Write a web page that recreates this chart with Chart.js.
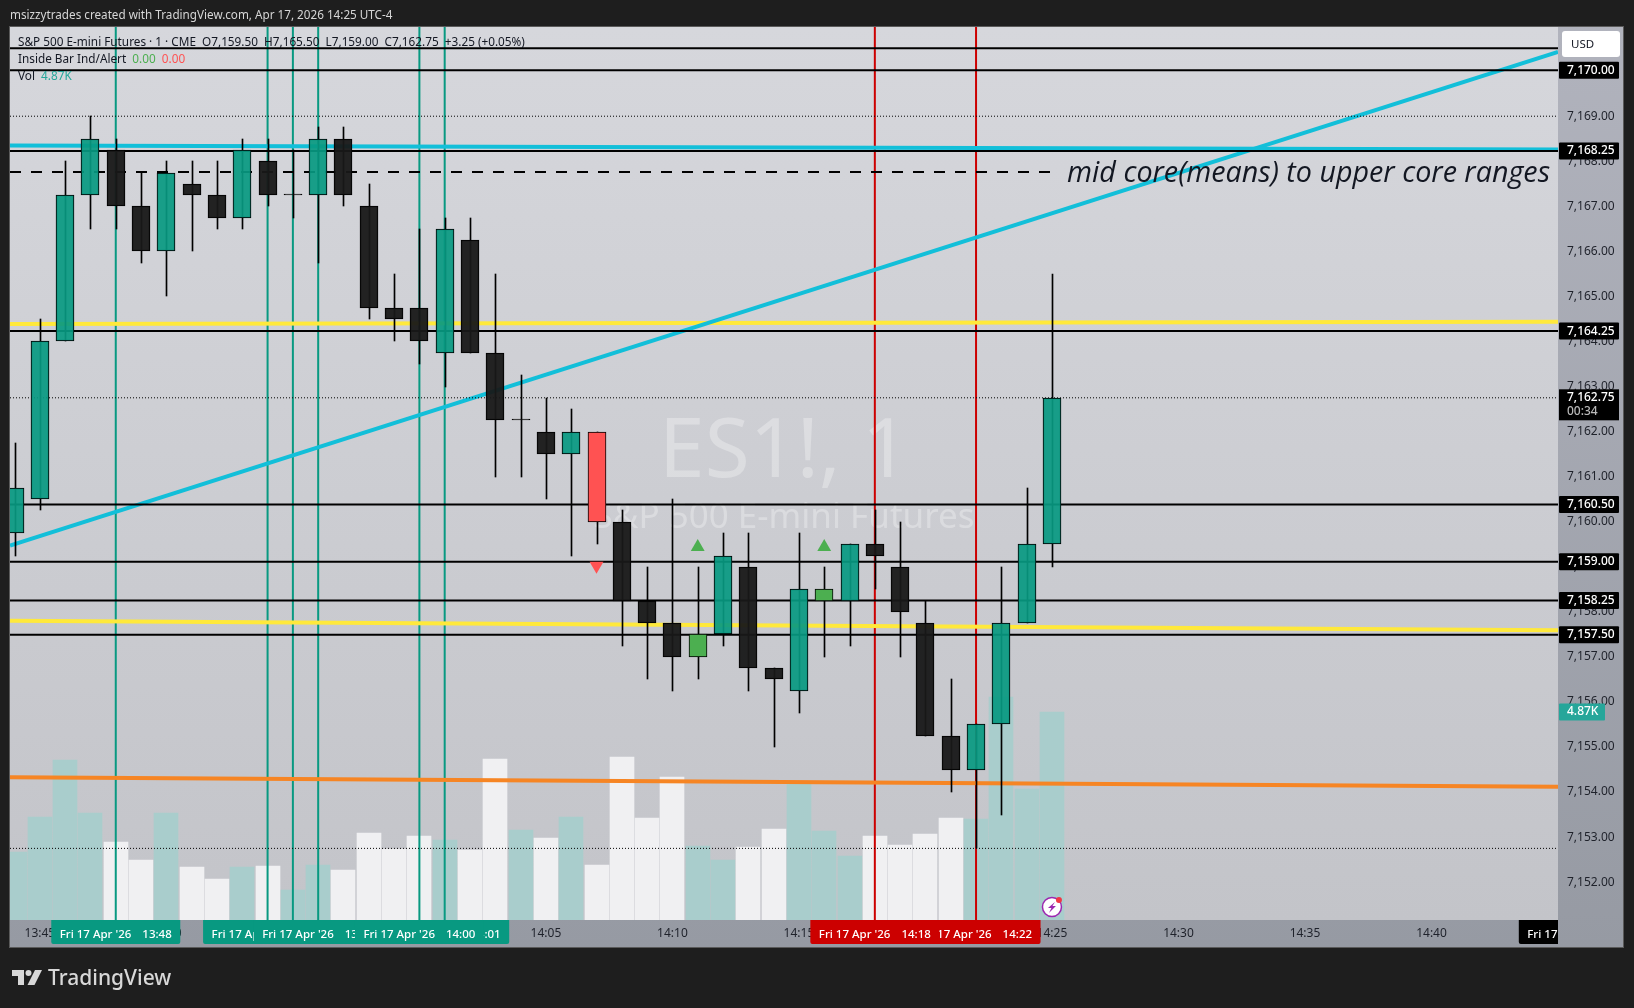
<!DOCTYPE html>
<html>
<head>
<meta charset="utf-8">
<title>ES1! 1 minute</title>
<style>
  html, body { margin: 0; padding: 0; background: #1e1e1e; }
  #wrap { position: relative; width: 1634px; height: 1008px; overflow: hidden; font-family: "Noto Sans", sans-serif; }
  #myChart { position: absolute; left: 0; top: 0; }
  .txt { position: absolute; white-space: pre; font-size: 11.77px; line-height: 16px; color: #131722; }
  #head { left: 10px; top: 6px; color: #d6d6d6; font-size: 11.7px; }
  #brand { left: 48px; top: 962px; color: #d8d8d8; font-size: 21px; line-height: 30px; font-weight: 500; }
  #logo { position: absolute; left: 12px; top: 970px; }
</style>
</head>
<body>
<div id="wrap">
  <canvas id="myChart" width="1634" height="1008"></canvas>
  <div class="txt" id="head">msizzytrades created with TradingView.com, Apr 17, 2026 14:25 UTC-4</div>
  <div class="txt" style="left:18px;top:33px">S&amp;P 500 E-mini Futures · 1 · CME  O7,159.50  H7,165.50  L7,159.00  C7,162.75  +3.25 (+0.05%)</div>
  <div class="txt" style="left:18px;top:50px">Inside Bar Ind/Alert  <span style="color:#4caf50">0.00</span>  <span style="color:#ff5252">0.00</span></div>
  <div class="txt" style="left:18px;top:67px">Vol  <span style="color:#26a69a">4.87K</span></div>
  <svg id="logo" width="30" height="15" viewBox="0 0 30 15">
    <path d="M0 0h12v15H6V6H0z M23 0h7l-7.5 15h-7z" fill="#d8d8d8"></path>
    <circle cx="16.5" cy="3" r="3" fill="#d8d8d8"></circle>
  </svg>
  <div class="txt" id="brand">TradingView</div>
</div>
<script src="https://cdn.jsdelivr.net/npm/chart.js@4"></script>
<script>
'use strict';

// candle data, 13:44 to 14:25, one minute per bar

var opens = [7159.75, 7160.5, 7164, 7167.25, 7168.25, 7167, 7166, 7167.5, 7167.25, 7166.75, 7168, 7167.25, 7167.25, 7168.5,
  7167, 7164.75, 7164.75, 7163.75, 7166.25, 7163.75, 7162.25, 7162, 7161.5, 7162, 7160, 7158.25, 7157.75, 7157,
  7157.5, 7159, 7156.75, 7156.25, 7158.25, 7158.25, 7159.5, 7159, 7157.75, 7155.25, 7154.5, 7155.5, 7157.75, 7159.5];
var closes = [7160.75, 7164, 7167.25, 7168.5, 7167, 7166, 7167.75, 7167.25, 7166.75, 7168.25, 7167.25, 7167.25, 7168.5, 7167.25,
  7164.75, 7164.5, 7164, 7166.5, 7163.75, 7162.25, 7162.25, 7161.5, 7162, 7160, 7158.25, 7157.75, 7157, 7157.5,
  7159.25, 7156.75, 7156.5, 7158.5, 7158.5, 7159.5, 7159.25, 7158, 7155.25, 7154.5, 7155.5, 7157.75, 7159.5, 7162.75];
var highs = [7161.75, 7164.5, 7168, 7169, 7168.5, 7167.75, 7168, 7168, 7168, 7168.5, 7168.5, 7168.25, 7168.75, 7168.75,
  7167.5, 7165.5, 7166.5, 7166.75, 7166.75, 7165.5, 7163.25, 7162.75, 7162.5, 7162, 7160.25, 7159, 7160.5, 7159,
  7159.75, 7159.75, 7156.75, 7159.75, 7159, 7159.5, 7160.25, 7160, 7158.25, 7156.5, 7155.5, 7159, 7160.75, 7165.5];
var lows = [7159.25, 7160.25, 7164, 7166.5, 7166.5, 7165.75, 7165, 7166, 7166.5, 7166.5, 7167, 7166.75, 7165.75, 7167,
  7164.5, 7164, 7163.5, 7163, 7163.75, 7161, 7161, 7160.5, 7159.25, 7159.5, 7157.25, 7156.5, 7156.25, 7156.5,
  7157.25, 7156.25, 7155, 7155.75, 7157, 7157.25, 7158.5, 7157, 7155.25, 7154, 7152.75, 7153.5, 7157.75, 7159];
var volumes = [1.59, 2.41, 3.75, 2.50, 1.83, 1.40, 2.50, 1.24, 0.96, 1.24, 1.26, 0.70, 1.29, 1.17,
  2.04, 1.66, 1.97, 1.87, 1.64, 3.77, 2.11, 1.92, 2.41, 1.29, 3.82, 2.39, 3.35, 1.73,
  1.40, 1.71, 2.13, 3.21, 2.08, 1.50, 1.97, 1.76, 2.01, 2.39, 2.36, 5.22, 3.07, 4.87];

// inside bar indicator
var redBars = [23];
var greenBars = [27, 32];
var upMarkBars = [27, 32];
var upMarkPrices = [7159.44, 7159.44];
var downMarkBars = [23];
var downMarkPrices = [7159.02];

// axes
var priceTicks = [7152, 7153, 7154, 7155, 7156, 7157, 7158, 7159, 7160, 7161, 7162, 7163, 7164, 7165, 7166, 7167, 7168, 7169, 7170];
var timeTicks = [1, 6, 11, 16, 21, 26, 31, 36, 41, 46, 51, 56];
var timeTickLabels = ['13:45', '13:50', '13:55', '14:00', '14:05', '14:10', '14:15', '14:20', '14:25', '14:30', '14:35', '14:40'];
var xLeft = -0.18;
var xRight = 61;
var yBottom = 7151.16;
var yTop = 7170.98;
var volTop = 20.91;

// drawings on the chart
var levelPrices = [7170.51, 7170.02, 7168.23, 7164.23, 7160.38, 7159.11, 7158.25, 7157.49];
var levelTags = [null, '7,170.00', '7,168.25', '7,164.25', '7,160.50', '7,159.00', '7,158.25', '7,157.50'];
var dottedPrices = [7169, 7162.75, 7152.75];
var dashedPrice = 7167.76;
var dashedEnd = 41.05;
var cyanFlat = [7168.35, 7168.26];
var cyanRising = [7159.47, 7170.43];
var yellowUpper = [7164.39, 7164.44];
var yellowLower = [7157.8, 7157.59];
var orangeLine = [7154.33, 7154.12];

// vertical time marks, listed in paint order (last one ends up on top)
var greenMarks = [4, 11, 10, 17, 12, 16];
var greenMarkTimes = ['13:48', '13:55', '13:54', '14:01', '13:56', '14:00'];
var redMarks = [38, 34];
var redMarkTimes = ['14:22', '14:18'];
var cursorBar = 62;
var cursorTime = '14:46';

var lastPrice = 7162.75;
var lastVolume = 4.87;

var tealBody = 'rgba(8,153,129,0.92)';
var blackBody = 'rgba(24,24,24,0.95)';
var pointFont = '"Noto Sans", sans-serif';

function candleColor(i) {
  if (redBars.includes(i)) { return '#ff5252'; }
  if (greenBars.includes(i)) { return '#4caf50'; }
  return closes[i] > opens[i] ? tealBody : blackBody;
}

function flatLine(values, color, width, order, dash) {
  return {
    type: 'line',
    data: [{x: xLeft, y: values[0]}, {x: xRight, y: values[1]}],
    borderColor: color,
    borderWidth: width,
    borderDash: dash || [],
    pointRadius: 0,
    order: order
  };
}

function verticalLine(bar, color) {
  return {
    type: 'line',
    data: [{x: bar, y: yBottom}, {x: bar, y: yTop}],
    borderColor: color,
    borderWidth: 2,
    pointRadius: 0,
    order: 12
  };
}

function formatPrice(value) {
  return value.toLocaleString('en-US', {minimumFractionDigits: 2, maximumFractionDigits: 2});
}

// build datasets

var chartDatasets = [];

chartDatasets.push({
  type: 'scatter',
  data: upMarkBars.map(function (bar, i) { return {x: bar, y: upMarkPrices[i]}; }),
  backgroundColor: '#4caf50',
  pointStyle: 'triangle',
  pointRadius: 8,
  pointBorderWidth: 0,
  order: 0
});
chartDatasets.push({
  type: 'scatter',
  data: downMarkBars.map(function (bar, i) { return {x: bar, y: downMarkPrices[i]}; }),
  backgroundColor: '#ff5252',
  pointStyle: 'triangle',
  rotation: 180,
  pointRadius: 8,
  pointBorderWidth: 0,
  order: 0
});
chartDatasets.push({
  type: 'bar',
  label: 'bodies',
  data: opens.map(function (open, i) { return {x: i, y: [open, closes[i]]}; }),
  backgroundColor: opens.map(function (open, i) { return candleColor(i); }),
  borderColor: '#000000',
  borderWidth: 1,
  borderSkipped: false,
  minBarLength: 1,
  maxBarThickness: 18,
  order: 1
});
chartDatasets.push({
  type: 'bar',
  label: 'wicks',
  data: lows.map(function (low, i) { return {x: i, y: [low, highs[i]]}; }),
  backgroundColor: '#000000',
  maxBarThickness: 1,
  order: 2
});

levelPrices.forEach(function (price) {
  chartDatasets.push(flatLine([price, price], '#000000', 2, 5));
});
dottedPrices.forEach(function (price) {
  chartDatasets.push(flatLine([price, price], '#000000', 1, 6, [1, 2]));
});
chartDatasets.push({
  type: 'line',
  data: [{x: xLeft, y: dashedPrice}, {x: dashedEnd, y: dashedPrice}],
  borderColor: '#000000',
  borderWidth: 2,
  borderDash: [11, 10],
  pointRadius: 0,
  order: 6
});
chartDatasets.push(flatLine(cyanFlat, '#12bfd9', 4, 7));
chartDatasets.push(flatLine(cyanRising, '#12bfd9', 4, 7));
chartDatasets.push(flatLine(yellowUpper, '#ffe93b', 4, 8));
chartDatasets.push(flatLine(yellowLower, '#ffe93b', 4, 8));
chartDatasets.push(flatLine(orangeLine, '#f68524', 4, 8));

greenMarks.forEach(function (bar) {
  chartDatasets.push(verticalLine(bar, '#089981'));
});
redMarks.forEach(function (bar) {
  chartDatasets.push(verticalLine(bar, '#cc0000'));
});

chartDatasets.push({
  type: 'bar',
  label: 'volume',
  yAxisID: 'yVol',
  data: volumes.map(function (vol, i) { return {x: i, y: vol}; }),
  backgroundColor: opens.map(function (open, i) { return closes[i] >= open ? '#a9cdcc' : '#f0f0f2'; }),
  maxBarThickness: 24,
  order: 20
});

// chart furniture, drawn around the datasets

function drawTimeTag(chart, bar, label, color) {
  var ctx = chart.ctx;
  var center = chart.scales.x.getPixelForValue(bar);
  var area = chart.chartArea;
  ctx.save();
  ctx.beginPath();
  ctx.rect(area.left, area.bottom, area.right - area.left, 30);
  ctx.clip();
  ctx.beginPath();
  ctx.roundRect(center - 64.5, area.bottom, 129, 24, [0, 0, 2, 2]);
  ctx.fillStyle = color;
  ctx.fill();
  ctx.fillStyle = '#ffffff';
  ctx.font = '500 11.5px ' + pointFont;
  ctx.textAlign = 'left';
  ctx.textBaseline = 'middle';
  ctx.fillText("Fri 17 Apr '26", center - 56, area.bottom + 14.5);
  ctx.textAlign = 'right';
  ctx.fillText(label, center + 56, area.bottom + 14.5);
  ctx.restore();
}

function drawPriceTag(chart, y, text, color, width) {
  var ctx = chart.ctx;
  var left = chart.chartArea.right + 1;
  ctx.fillStyle = color;
  ctx.beginPath();
  ctx.roundRect(left, y - 8.5, width, 17, 1);
  ctx.fill();
  ctx.fillStyle = '#ffffff';
  ctx.font = '500 12px ' + pointFont;
  ctx.textAlign = 'left';
  ctx.textBaseline = 'middle';
  ctx.fillText(text, left + 8, y);
}

function drawBolt(chart) {
  var ctx = chart.ctx;
  var cx = chart.scales.x.getPixelForValue(41);
  var cy = 907;
  ctx.save();
  ctx.beginPath();
  ctx.arc(cx, cy, 9.5, 0, Math.PI * 2);
  ctx.fillStyle = '#ffffff';
  ctx.fill();
  ctx.strokeStyle = '#9c27b0';
  ctx.lineWidth = 1.5;
  ctx.stroke();
  ctx.beginPath();
  ctx.moveTo(cx + 3, cy - 5);
  ctx.lineTo(cx - 4, cy + 1);
  ctx.lineTo(cx - 0.5, cy + 1);
  ctx.lineTo(cx - 3, cy + 6);
  ctx.lineTo(cx + 4, cy - 1);
  ctx.lineTo(cx + 0.5, cy - 1);
  ctx.closePath();
  ctx.fillStyle = '#9c27b0';
  ctx.fill();
  ctx.beginPath();
  ctx.arc(cx + 7, cy - 7, 3, 0, Math.PI * 2);
  ctx.fillStyle = '#f23645';
  ctx.fill();
  ctx.restore();
}

var furniture = {
  id: 'furniture',
  // keep wicks and bodies on whole pixels, otherwise they come out blurred
  afterDatasetsUpdate: function (chart) {
    chart.data.datasets.forEach(function (ds, index) {
      if (ds.type !== 'bar') { return; }
      chart.getDatasetMeta(index).data.forEach(function (el) {
        el.x = Math.round(el.x) + (ds.label === 'wicks' ? 0.5 : 0);
        el.y = Math.round(el.y);
        el.base = Math.round(el.base);
      });
    });
  },
  beforeDraw: function (chart) {
    var ctx = chart.ctx;
    var a = chart.chartArea;
    var plotFill = ctx.createLinearGradient(0, a.top, 0, a.bottom);
    plotFill.addColorStop(0, '#d6d7dc');
    plotFill.addColorStop(1, '#c3c4c9');
    var sideFill = ctx.createLinearGradient(0, a.top, 0, a.bottom + 27);
    sideFill.addColorStop(0, '#b1b3bd');
    sideFill.addColorStop(1, '#969aa3');
    ctx.fillStyle = '#1e1e1e';
    ctx.fillRect(0, 0, chart.width, chart.height);
    ctx.fillStyle = sideFill;
    ctx.fillRect(a.left, a.top, a.right - a.left + 65, a.bottom - a.top + 27);
    ctx.fillStyle = plotFill;
    ctx.fillRect(a.left, a.top, a.right - a.left, a.bottom - a.top);
    ctx.strokeStyle = '#5a5a5a';
    ctx.lineWidth = 1;
    ctx.strokeRect(a.left - 0.5, a.top - 0.5, a.right - a.left + 66, a.bottom - a.top + 28);
  },
  beforeDatasetsDraw: function (chart) {
    var ctx = chart.ctx;
    ctx.save();
    ctx.fillStyle = 'rgba(255,255,255,0.3)';
    ctx.textAlign = 'center';
    ctx.textBaseline = 'alphabetic';
    ctx.font = '82px ' + pointFont;
    ctx.fillText('ES1!, 1', 784, 477);
    ctx.font = '35px ' + pointFont;
    ctx.fillText('S&P 500 E-mini Futures', 784, 528);
    ctx.restore();
  },
  afterDraw: function (chart) {
    var ctx = chart.ctx;
    var yScale = chart.scales.y;
    var a = chart.chartArea;

    ctx.save();
    ctx.fillStyle = '#131722';
    ctx.font = 'italic 28.7px "Open Sans", sans-serif';
    ctx.textAlign = 'right';
    ctx.textBaseline = 'middle';
    ctx.fillText('mid core(means) to upper core ranges', 1550, 174);
    ctx.restore();

    levelPrices.forEach(function (price, i) {
      if (levelTags[i]) {
        drawPriceTag(chart, yScale.getPixelForValue(price), levelTags[i], '#000000', 60);
      }
    });

    // last price with the bar countdown under it
    var lastY = yScale.getPixelForValue(lastPrice);
    ctx.fillStyle = '#000000';
    ctx.fillRect(a.right + 1, lastY - 8.5, 60, 31);
    ctx.fillStyle = '#ffffff';
    ctx.font = '500 12px ' + pointFont;
    ctx.textAlign = 'left';
    ctx.textBaseline = 'middle';
    ctx.fillText(formatPrice(lastPrice), a.right + 9, lastY);
    ctx.fillStyle = '#b8b8b8';
    ctx.fillText('00:34', a.right + 9, lastY + 14);

    drawPriceTag(chart, chart.scales.yVol.getPixelForValue(lastVolume), lastVolume.toFixed(2) + 'K', '#26a69a', 46);

    ctx.beginPath();
    ctx.roundRect(a.right + 4, 31, 58, 26, 3);
    ctx.fillStyle = '#ffffff';
    ctx.fill();
    ctx.fillStyle = '#131722';
    ctx.font = '11.5px ' + pointFont;
    ctx.fillText('USD', a.right + 13, 45);

    greenMarks.forEach(function (bar, i) {
      drawTimeTag(chart, bar, greenMarkTimes[i], '#089981');
    });
    redMarks.forEach(function (bar, i) {
      drawTimeTag(chart, bar, redMarkTimes[i], '#cc0000');
    });
    drawTimeTag(chart, cursorBar, cursorTime, '#000000');

    drawBolt(chart);
  }
};

// make the chart

var ctx = document.getElementById('myChart').getContext('2d');
var chart = new Chart(ctx, {
  type: 'bar',
  data: {datasets: chartDatasets},
  plugins: [furniture],
  options: {
    responsive: false,
    animation: false,
    events: [],
    layout: {padding: {left: 10, top: 27, right: 11, bottom: 61}},
    datasets: {bar: {grouped: false, barPercentage: 1, categoryPercentage: 1}},
    plugins: {legend: {display: false}, tooltip: {enabled: false}, title: {display: false}},
    scales: {
      x: {
        type: 'linear',
        offset: false,
        min: xLeft,
        max: xRight,
        grid: {display: false, drawTicks: false, offset: false},
        border: {display: false},
        afterBuildTicks: function (scale) {
          scale.ticks = timeTicks.map(function (v) { return {value: v}; });
        },
        afterFit: function (scale) { scale.height = 27; },
        ticks: {
          autoSkip: false,
          maxRotation: 0,
          padding: 6,
          color: '#1f222b',
          font: {family: pointFont, size: 12},
          callback: function (v) { return timeTickLabels[timeTicks.indexOf(v)]; }
        }
      },
      y: {
        type: 'linear',
        position: 'right',
        min: yBottom,
        max: yTop,
        grid: {display: false, drawTicks: false},
        border: {display: false},
        afterBuildTicks: function (scale) {
          scale.ticks = priceTicks.map(function (v) { return {value: v}; });
        },
        afterFit: function (scale) { scale.width = 65; },
        ticks: {
          autoSkip: false,
          padding: 9,
          color: '#1f222b',
          font: {family: pointFont, size: 12},
          callback: function (v) { return formatPrice(v); }
        }
      },
      yVol: {
        type: 'linear',
        display: false,
        position: 'right',
        min: 0,
        max: volTop
      }
    }
  }
});
</script>
</body>
</html>
